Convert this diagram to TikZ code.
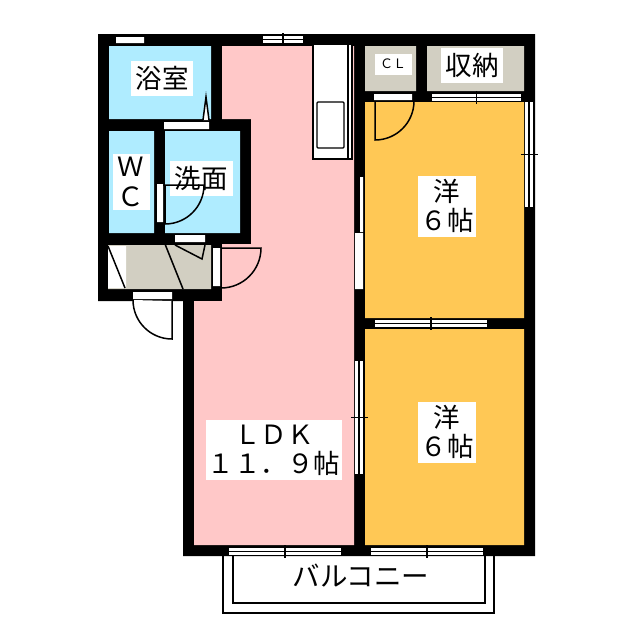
\documentclass[tikz,border=0pt]{standalone}
\usepackage{fontspec}
\setmainfont{Noto Sans CJK JP}
\definecolor{ldkpink}{HTML}{FFC8C8}
\definecolor{roomyellow}{HTML}{FFC855}
\definecolor{wetblue}{HTML}{AFECFF}
\definecolor{floortan}{HTML}{D2CFC2}
\tikzset{
	label/.style={fill=white,inner sep=0pt,align=center,font=\fontsize{26.5}{29}\selectfont},
	thin line/.style={draw=black,line width=1.2pt},
	door line/.style={draw=black,line width=1.5pt},
	opening/.style={fill=white,draw=none},
}
\begin{document}
\begin{tikzpicture}[x=1pt,y=-1pt]
	\useasboundingbox (0,0) rectangle (640,640);
	% walls
	\fill[black] (98,34) -- (535,34) -- (535,556) -- (183,556) -- (183,301) -- (98,301) -- cycle;
	% rooms
	\fill[ldkpink] (222,46) -- (354,46) -- (354,545) -- (194,545) -- (194,301) -- (222,301) -- (222,244) -- (251,244) -- (251,119) -- (222,119) -- cycle;
	\fill[wetblue] (109,46) rectangle (211,119) (109,131) rectangle (154,233) (165,131) rectangle (240,233);
	\fill[floortan] (108,245) rectangle (211,289) (365,46) rectangle (416,91) (427,46) rectangle (524,91);
	\fill[roomyellow] (365,102) rectangle (524,318) (365,329) rectangle (524,545);
	% balcony
	\draw[thin line] (223,556) |- (494,613) -- (494,556) (233,556) |- (485,603) -- (485,556);
	% kitchen
	\draw[thin line,fill=white] (313,44) rectangle (352,159);
	\draw[thin line] (348,44) -- (348,159);
	\draw[thin line,rounded corners=1pt] (317,102) rectangle (344,148);
	% plain openings
	\fill[opening] (116,37) rectangle (144,43) (164,122) rectangle (209,129) (157,184) rectangle (163,222) (175,235) rectangle (205,242) (108,246) rectangle (126,288) (213,248) rectangle (220,286) (133,292) rectangle (172,299) (374,94) rectangle (412,100) (360,177) rectangle (363,232) (355,233) rectangle (363,289);
	% sliding windows, running across
	\foreach \xa/\xb/\ya in {263/303/36,432/521/94,375/487/320,229/341/548,371/483/548}{
		\fill[opening] (\xa,\ya) rectangle (\xb,\ya+7);
		\draw[black,line width=1.5pt] (\xa,\ya+3.5) -- (\xb,\ya+3.5);
		\draw[black,line width=1.3pt] ({(\xa+\xb)/2},\ya-3) -- ({(\xa+\xb)/2},\ya+10);
	}
	% sliding windows, running down
	\foreach \ya/\yb/\xa in {102/207/525,361/474/355}{
		\fill[opening] (\xa,\ya) rectangle (\xa+8,\yb);
		\draw[black,line width=1.5pt] (\xa+4,\ya) -- (\xa+4,\yb);
		\draw[black,line width=1.3pt] (\xa-4,{(\ya+\yb)/2}) -- (\xa+13,{(\ya+\yb)/2});
	}
	% labels
	\node[label,minimum width=62pt,minimum height=35pt] (bath) at (162,78) {浴室};
	\node[label,minimum width=37pt,minimum height=56pt,font=\fontsize{26.5}{30}\selectfont] (wc) at (131,182) {Ｗ\\Ｃ};
	\node[label,minimum width=63pt,minimum height=35pt] (wash) at (201,178) {洗面};
	\node[label,minimum width=37pt,minimum height=21pt,font=\fontsize{13}{14}\selectfont] (cl) at (393,64) {ＣＬ};
	\node[label,minimum width=62pt,minimum height=35pt] (storage) at (472,65) {収納};
	\node[label,minimum width=58pt,minimum height=61pt] (roomA) at (447,206) {洋\\６帖};
	\node[label,minimum width=58pt,minimum height=61pt] (roomB) at (447,432) {洋\\６帖};
	\node[label,minimum width=136pt,minimum height=60pt] (ldk) at (274,450) {ＬＤＫ\\１１．９帖};
	\node[inner sep=0pt,font=\fontsize{27.5}{28}\selectfont] (balcony) at (361,576) {バルコニー};
	% doors
	\draw[door line,fill=white] (203,120) -- (206,97) -- (209,120);
	\draw[door line] (163,185) -- (204,185) arc[start angle=0,end angle=90,radius=39] -- (165,185);
	\draw[door line] (175,245) -- (202,259) -- (205,245);
	\draw[door line] (165,244) -- (183,289);
	\draw[door line] (108,246) -- (125,288);
	\draw[door line] (222,248) -- (261,248) arc[start angle=0,end angle=90,radius=40];
	\draw[door line,fill=white] (172,301) -- (172,339) arc[start angle=90,end angle=180,radius=39];
	\draw[door line] (375,102) -- (375,140) arc[start angle=90,end angle=0,radius=39];
\end{tikzpicture}
\end{document}
